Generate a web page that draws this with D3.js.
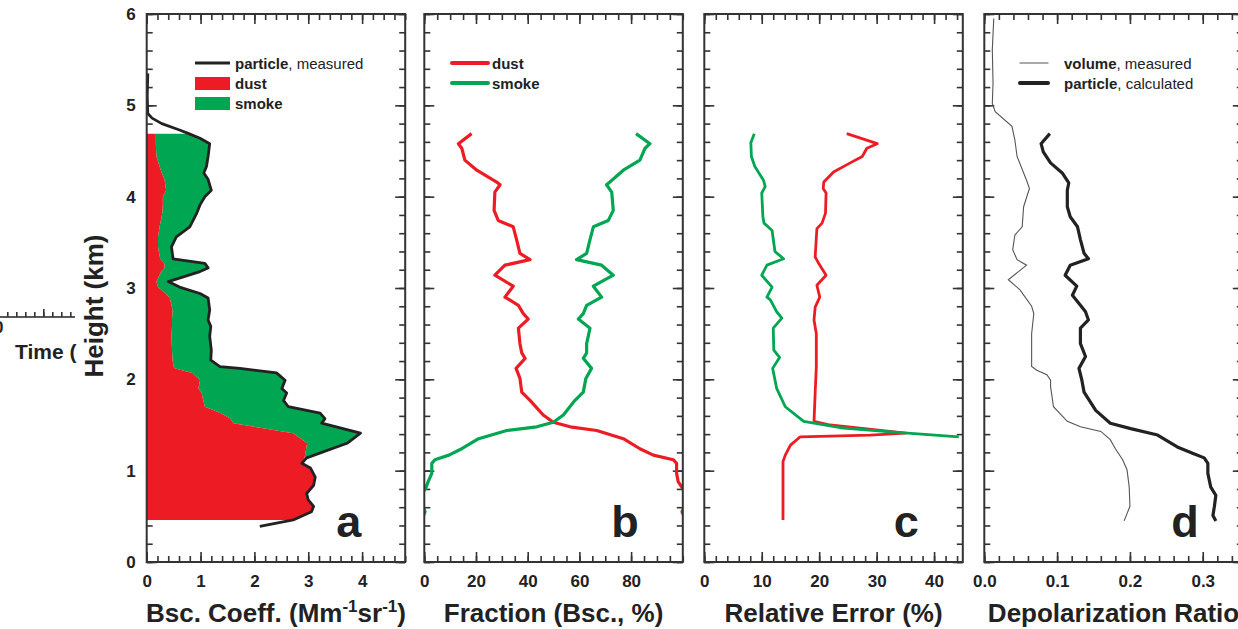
<!DOCTYPE html>
<html>
<head>
<meta charset="utf-8">
<script src="https://cdn.jsdelivr.net/npm/d3@7"></script>
<style>
  body { margin: 0; background: #fff; }
  svg { display: block; font-family: 'Liberation Sans', Arial, sans-serif; }
  .tick text { font-size: 17px; font-weight: bold; fill: #222; }
  .tick line { stroke: #333; stroke-width: 1.6; }
  .title { font-size: 26px; font-weight: bold; fill: #222; }
  .legend { font-size: 15px; fill: #222; }
  .panel-label { font-size: 45px; font-weight: bold; fill: #222; }
</style>
</head>
<body>
<div id="chart"></div>
<script>
// ---- data (heights in km) ----
// panel a: measured particle backscatter and the dust part of it (Mm-1 sr-1)
const aHeight = [5.35, 5.10, 4.91, 4.86, 4.80, 4.73, 4.69, 4.64, 4.58, 4.44, 4.33, 4.26, 4.19, 4.07, 4.00, 3.91, 3.82, 3.67, 3.56, 3.45, 3.32, 3.27, 3.22, 3.18, 3.07, 3.01, 2.94, 2.89, 2.76, 2.65, 2.58, 2.47, 2.32, 2.21, 2.14, 2.12, 2.07, 1.99, 1.90, 1.85, 1.77, 1.70, 1.63, 1.57, 1.52, 1.41, 1.30, 1.14, 1.08, 1.03, 0.93, 0.84, 0.75, 0.68, 0.61, 0.55, 0.46, 0.39]
const aParticle = [0.02, 0.01, 0.02, 0.10, 0.28, 0.61, 0.78, 0.99, 1.17, 1.14, 1.11, 1.06, 1.14, 1.20, 1.08, 0.99, 0.93, 0.80, 0.55, 0.46, 0.49, 1.08, 1.14, 0.99, 0.40, 0.61, 0.99, 1.14, 1.17, 1.14, 1.19, 1.17, 1.20, 1.19, 1.36, 1.73, 2.41, 2.57, 2.51, 2.60, 2.54, 2.63, 3.22, 3.31, 3.25, 3.97, 3.72, 2.97, 2.88, 3.04, 3.13, 3.10, 2.97, 3.00, 3.10, 3.06, 2.72, 2.10]
const aDust = [null, null, null, null, null, null, 0.17, 0.17, 0.17, 0.18, 0.24, 0.28, 0.33, 0.36, 0.30, 0.30, 0.29, 0.24, 0.21, 0.21, 0.25, 0.33, 0.33, 0.27, 0.18, 0.21, 0.35, 0.43, 0.48, 0.47, 0.47, 0.46, 0.47, 0.48, 0.50, 0.52, 0.85, 0.99, 0.96, 1.02, 1.05, 1.08, 1.38, 1.55, 1.61, 2.72, 2.98, 2.93, 2.88, 3.04, 3.13, 3.10, 2.97, 3.00, 3.10, 3.06, 2.72, null]

// panel b: backscatter fraction (%)
const bHeight = [4.69, 4.58, 4.53, 4.40, 4.29, 4.16, 4.13, 4.05, 3.85, 3.74, 3.67, 3.53, 3.38, 3.31, 3.25, 3.14, 3.02, 2.90, 2.81, 2.72, 2.66, 2.56, 2.39, 2.29, 2.23, 2.12, 2.01, 1.86, 1.77, 1.61, 1.53, 1.48, 1.44, 1.35, 1.24, 1.17, 1.12, 1.08, 0.97, 0.88, 0.82, 0.75, 0.62, 0.55, 0.50]
const bDust = [18.3, 13.2, 14.5, 15.7, 20.3, 28.0, 29.3, 27.3, 27.0, 28.6, 34.4, 35.7, 37.0, 40.9, 31.2, 27.3, 34.4, 31.2, 36.4, 38.3, 40.2, 36.4, 37.0, 37.7, 39.0, 35.5, 37.0, 37.7, 40.9, 46.0, 49.9, 56.4, 66.7, 77.0, 83.4, 88.6, 96.3, 97.6, 97.6, 98.2, 99.6, 101.0, 100.8, 99.7, 100.5]
const bSmoke = [81.9, 87.3, 85.4, 83.4, 77.0, 71.8, 70.5, 72.5, 73.1, 71.2, 65.4, 64.1, 62.8, 58.9, 68.6, 73.1, 65.4, 68.6, 62.8, 61.5, 59.6, 64.1, 62.8, 62.8, 61.5, 64.7, 62.5, 61.5, 58.3, 53.8, 49.9, 43.5, 31.9, 21.0, 14.5, 9.5, 4.1, 2.9, 2.9, 1.5, 0.7, -0.8, -0.6, 0.3, -0.4]

// panel c: relative error (%)
const cDustHeight = [4.69, 4.58, 4.53, 4.44, 4.37, 4.27, 4.16, 4.09, 4.04, 3.82, 3.71, 3.65, 3.34, 3.27, 3.14, 3.03, 2.90, 2.79, 2.65, 2.50, 2.14, 1.85, 1.54, 1.50, 1.45, 1.41, 1.39, 1.37, 1.35, 1.28, 1.17, 1.10, 0.82, 0.46]
const cDust = [24.8, 30.1, 28.3, 27.5, 25.4, 22.5, 20.8, 20.7, 21.2, 21.1, 20.5, 19.6, 19.3, 19.9, 21.2, 19.6, 20.1, 19.3, 19.1, 19.5, 19.5, 19.3, 19.1, 21.9, 29.5, 35.0, 28.9, 16.7, 16.3, 15.0, 14.1, 13.7, 13.7, 13.7]
const cSmokeHeight = [4.69, 4.59, 4.44, 4.33, 4.18, 4.11, 4.04, 3.78, 3.71, 3.63, 3.40, 3.32, 3.25, 3.14, 3.01, 2.90, 2.87, 2.74, 2.67, 2.56, 2.32, 2.24, 2.12, 1.90, 1.70, 1.54, 1.47, 1.42, 1.37]
const cSmoke = [8.7, 8.1, 8.2, 8.8, 10.3, 10.6, 10.0, 10.2, 10.4, 11.8, 12.3, 13.8, 10.9, 10.0, 11.8, 10.9, 11.5, 12.6, 13.5, 12.0, 12.1, 13.1, 11.9, 12.6, 14.1, 17.3, 23.7, 33.6, 44.3]

// panel d: depolarization ratio
const dVolumeHeight = [5.95, 5.61, 5.24, 5.02, 4.93, 4.77, 4.62, 4.44, 4.18, 4.09, 3.89, 3.67, 3.58, 3.42, 3.31, 3.25, 3.09, 2.98, 2.80, 2.72, 2.50, 2.14, 2.10, 2.05, 1.99, 1.92, 1.70, 1.54, 1.48, 1.43, 1.34, 1.24, 1.12, 1.01, 0.82, 0.61, 0.53, 0.45]
const dVolume = [0.013, 0.011, 0.012, 0.011, 0.015, 0.038, 0.042, 0.045, 0.058, 0.062, 0.054, 0.052, 0.042, 0.039, 0.045, 0.058, 0.033, 0.049, 0.065, 0.068, 0.065, 0.065, 0.072, 0.086, 0.091, 0.091, 0.095, 0.114, 0.132, 0.160, 0.173, 0.180, 0.190, 0.196, 0.199, 0.200, 0.196, 0.192]
const dParticleHeight = [4.69, 4.58, 4.49, 4.37, 4.26, 4.15, 4.07, 3.89, 3.78, 3.67, 3.53, 3.38, 3.32, 3.25, 3.14, 3.02, 2.92, 2.81, 2.74, 2.65, 2.56, 2.39, 2.25, 2.12, 1.99, 1.86, 1.66, 1.52, 1.46, 1.39, 1.26, 1.19, 1.14, 1.08, 0.97, 0.82, 0.73, 0.61, 0.51, 0.45]
const dParticle = [0.090, 0.078, 0.081, 0.091, 0.107, 0.116, 0.114, 0.114, 0.118, 0.128, 0.132, 0.137, 0.143, 0.118, 0.111, 0.127, 0.121, 0.132, 0.139, 0.143, 0.132, 0.132, 0.139, 0.130, 0.134, 0.137, 0.153, 0.173, 0.201, 0.238, 0.265, 0.286, 0.302, 0.307, 0.307, 0.311, 0.318, 0.316, 0.314, 0.318]

// axis ticks and labels
const heightTicks = [0, 1, 2, 3, 4, 5, 6]
const aTicks = [0, 1, 2, 3, 4]
const bTicks = [0, 20, 40, 60, 80]
const cTicks = [0, 10, 20, 30, 40]
const dTicks = [0, 0.1, 0.2, 0.3]
const xTitles = ['Bsc. Coeff. (Mm', 'Fraction (Bsc., %)', 'Relative Error (%)', 'Depolarization Ratio']
const panelLetters = ['a', 'b', 'c', 'd']

const RED = '#ed1c24'
const GREEN = '#00a651'
const INK = '#222'

// ---- layout ----
const W = 1238
const H = 629
const plotTop = 14
const plotBottom = 562
const plotW = 258.5
const panelLeft = [146.7, 424.3, 704.3, 984.3]

const svg = d3.select('#chart').append('svg')
  .attr('width', W)
  .attr('height', H)

const y = d3.scaleLinear().domain([0, 6]).range([plotBottom, plotTop])
const yMinor = d3.range(0, 6.001, 0.2)

/**
 * Draws one panel frame with inward ticks on all four sides.
 */
function drawPanel (i, domain, major, minorStep, fmt, showY) {
  const left = panelLeft[i]
  const x = d3.scaleLinear().domain(domain).range([left, left + plotW])
  const minor = d3.range(domain[0], domain[1] + 1e-9, minorStep)
  const g = svg.append('g').attr('class', 'panel')
  const clean = s => s.select('.domain').remove()

  // bottom and top ticks
  g.append('g').attr('transform', `translate(0,${plotBottom})`)
    .call(d3.axisBottom(x).tickValues(minor).tickSize(-6).tickFormat('')).call(clean)
  g.append('g').attr('transform', `translate(0,${plotBottom})`)
    .call(d3.axisBottom(x).tickValues(major).tickSize(-10).tickPadding(13).tickFormat(fmt)).call(clean)
  g.append('g').attr('transform', `translate(0,${plotTop})`)
    .call(d3.axisTop(x).tickValues(minor).tickSize(-6).tickFormat('')).call(clean)
  g.append('g').attr('transform', `translate(0,${plotTop})`)
    .call(d3.axisTop(x).tickValues(major).tickSize(-10).tickFormat('')).call(clean)

  // left and right ticks
  g.append('g').attr('transform', `translate(${left},0)`)
    .call(d3.axisLeft(y).tickValues(yMinor).tickSize(-6).tickFormat('')).call(clean)
  g.append('g').attr('transform', `translate(${left},0)`)
    .call(d3.axisLeft(y).tickValues(heightTicks).tickSize(-10).tickPadding(11)
      .tickFormat(showY ? d3.format('d') : '')).call(clean)
  g.append('g').attr('transform', `translate(${left + plotW},0)`)
    .call(d3.axisRight(y).tickValues(yMinor).tickSize(-6).tickFormat('')).call(clean)
  g.append('g').attr('transform', `translate(${left + plotW},0)`)
    .call(d3.axisRight(y).tickValues(heightTicks).tickSize(-10).tickFormat('')).call(clean)

  // clip region for the profiles
  svg.append('clipPath').attr('id', `clip${i}`)
    .append('rect')
    .attr('x', left).attr('y', plotTop)
    .attr('width', plotW).attr('height', plotBottom - plotTop)

  const content = svg.append('g').attr('clip-path', `url(#clip${i})`)
  return { x, g, content, left }
}

function profile (x, heights, values) {
  return d3.line()
    .defined(d => d.v !== null)
    .x(d => x(d.v))
    .y(d => y(d.h))(heights.map((h, k) => ({ h, v: values[k] })))
}

// ---- panel a ----
const pa = drawPanel(0, [0, 4.8], aTicks, 0.2, d3.format('d'), true)
const aRows = aHeight.map((h, k) => ({ h, total: aParticle[k], dust: aDust[k] }))
  .filter(d => d.dust !== null)
pa.content.append('path')
  .attr('fill', GREEN)
  .attr('d', d3.area().y(d => y(d.h)).x0(d => pa.x(d.dust)).x1(d => pa.x(d.total))(aRows))
pa.content.append('path')
  .attr('fill', RED)
  .attr('d', d3.area().y(d => y(d.h)).x0(pa.x(0)).x1(d => pa.x(d.dust))(aRows))
pa.content.append('path')
  .attr('fill', 'none').attr('stroke', INK).attr('stroke-width', 2.8)
  .attr('stroke-linejoin', 'round')
  .attr('d', profile(pa.x, aHeight, aParticle))

// ---- panel b ----
const pb = drawPanel(1, [0, 100], bTicks, 5, d3.format('d'), false)
pb.content.append('path')
  .attr('fill', 'none').attr('stroke', RED).attr('stroke-width', 3.2).attr('stroke-linejoin', 'round')
  .attr('d', profile(pb.x, bHeight, bDust))
pb.content.append('path')
  .attr('fill', 'none').attr('stroke', GREEN).attr('stroke-width', 3.2).attr('stroke-linejoin', 'round')
  .attr('d', profile(pb.x, bHeight, bSmoke))

// ---- panel c ----
const pc = drawPanel(2, [0, 45], cTicks, 2, d3.format('d'), false)
pc.content.append('path')
  .attr('fill', 'none').attr('stroke', RED).attr('stroke-width', 2.8).attr('stroke-linejoin', 'round')
  .attr('d', profile(pc.x, cDustHeight, cDust))
pc.content.append('path')
  .attr('fill', 'none').attr('stroke', GREEN).attr('stroke-width', 2.8).attr('stroke-linejoin', 'round')
  .attr('d', profile(pc.x, cSmokeHeight, cSmoke))

// ---- panel d ----
const pd = drawPanel(3, [0, 0.355], dTicks, 0.02, d3.format('.1f'), false)
pd.content.append('path')
  .attr('fill', 'none').attr('stroke', '#555').attr('stroke-width', 1.1)
  .attr('d', profile(pd.x, dVolumeHeight, dVolume))
pd.content.append('path')
  .attr('fill', 'none').attr('stroke', INK).attr('stroke-width', 3.2).attr('stroke-linejoin', 'round')
  .attr('d', profile(pd.x, dParticleHeight, dParticle))

// frames on top of everything
const panels = [pa, pb, pc, pd]
panels.forEach((p, i) => {
  svg.append('rect')
    .attr('x', p.left).attr('y', plotTop)
    .attr('width', plotW).attr('height', plotBottom - plotTop)
    .attr('fill', 'none').attr('stroke', '#333').attr('stroke-width', 2)

  svg.append('text')
    .attr('class', 'panel-label')
    .attr('x', p.left + plotW - 44).attr('y', 537)
    .attr('text-anchor', 'end')
    .text(panelLetters[i])

  const t = svg.append('text')
    .attr('class', 'title')
    .attr('x', p.left + plotW / 2).attr('y', 622)
    .attr('text-anchor', 'middle')
    .text(xTitles[i])
  if (i === 0) {
    // superscripts for Mm-1 sr-1
    t.append('tspan').attr('dy', -10).style('font-size', '17px').text('-1')
    t.append('tspan').attr('dy', 10).text('sr')
    t.append('tspan').attr('dy', -10).style('font-size', '17px').text('-1')
    t.append('tspan').attr('dy', 10).text(')')
  }
})

// y axis title
svg.append('text')
  .attr('class', 'title')
  .attr('transform', 'translate(103,306) rotate(-90)')
  .attr('text-anchor', 'middle')
  .text('Height (km)')

// ---- legends ----
const la = svg.append('g').attr('class', 'legend')
la.append('line').attr('x1', 195).attr('x2', 230).attr('y1', 63).attr('y2', 63)
  .attr('stroke', INK).attr('stroke-width', 3)
la.append('rect').attr('x', 195).attr('y', 77).attr('width', 35).attr('height', 13).attr('fill', RED)
la.append('rect').attr('x', 195).attr('y', 97).attr('width', 35).attr('height', 13).attr('fill', GREEN)
const la1 = la.append('text').attr('x', 235).attr('y', 68.5)
la1.append('tspan').attr('font-weight', 'bold').text('particle')
la1.append('tspan').text(', measured')
la.append('text').attr('x', 235).attr('y', 88.5).attr('font-weight', 'bold').text('dust')
la.append('text').attr('x', 235).attr('y', 108.5).attr('font-weight', 'bold').text('smoke')

const lb = svg.append('g').attr('class', 'legend')
;[['dust', RED, 63], ['smoke', GREEN, 83]].forEach(([name, col, yy]) => {
  lb.append('line').attr('x1', 452).attr('x2', 488).attr('y1', yy).attr('y2', yy)
    .attr('stroke', col).attr('stroke-width', 4).attr('stroke-linecap', 'round')
  lb.append('text').attr('x', 492).attr('y', yy + 5.5).attr('font-weight', 'bold').text(name)
})

const ld = svg.append('g').attr('class', 'legend')
;[['volume', ', measured', '#555', 1.1, 63], ['particle', ', calculated', INK, 4, 83]].forEach(([b, rest, col, sw, yy]) => {
  ld.append('line').attr('x1', 1020).attr('x2', 1048).attr('y1', yy).attr('y2', yy)
    .attr('stroke', col).attr('stroke-width', sw).attr('stroke-linecap', 'round')
  const t = ld.append('text').attr('x', 1064).attr('y', yy + 5.5)
  t.append('tspan').attr('font-weight', 'bold').text(b)
  t.append('tspan').text(rest)
})

// ---- cut-off piece of the neighbouring figure at the left edge ----
const frag = svg.append('g').attr('transform', 'translate(0,317)')
const fragX = d3.scaleLinear().domain([0, 1]).range([-1.7, 43.3])
frag.append('line').attr('x1', 0).attr('x2', 75).attr('stroke', '#222').attr('stroke-width', 1.6)
frag.call(g => g.append('g')
  .call(d3.axisBottom(fragX).tickValues(d3.range(0, 1.7, 0.2)).tickSize(-5).tickFormat(''))
  .call(s => s.select('.domain').remove()))
frag.call(g => g.append('g')
  .call(d3.axisBottom(fragX).tickValues([0, 1]).tickSize(-8).tickPadding(4).tickFormat(d => d === 0 ? '0' : ''))
  .call(s => s.select('.domain').remove()))
svg.append('text')
  .attr('x', 15).attr('y', 359)
  .style('font-size', '21px').style('font-weight', 'bold').attr('fill', INK)
  .text('Time (')
</script>
</body>
</html>
